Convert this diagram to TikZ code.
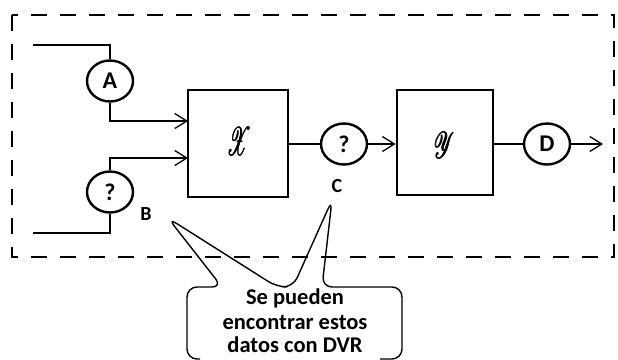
\documentclass[tikz,border=0pt]{standalone}
\usepackage{fontspec}
\setmainfont{Carlito}
\usepackage{mathrsfs}
\usepackage{graphicx}
\usetikzlibrary{shapes.geometric,arrows.meta}
\newcommand\fakebold[1]{\leavevmode\rlap{#1}\rlap{\kern0.6pt#1}\rlap{\kern1.2pt#1}\kern0.6pt#1\kern0.6pt}
\tikzset{
  conn/.style={line width=1.3pt},
  arr/.style={conn,-{Straight Barb[length=12pt,width=15pt,line width=1.3pt]}},
  oval/.style={draw,ellipse,line width=2.4pt,minimum width=46pt,minimum height=41pt,inner sep=0pt,font=\fontsize{24}{26}\selectfont\bfseries},
  blk/.style={draw,rectangle,line width=2.8pt,inner sep=0pt},
  glyph/.style={font=\fontsize{34}{34}\selectfont,inner sep=0pt},
  tag/.style={font=\fontsize{20}{22}\selectfont\bfseries,inner sep=0pt},
  frame/.style={line width=2.8pt,dash pattern=on 16pt off 13pt},
  callout/.style={line width=1.4pt,rounded corners=10pt},
  ctext/.style={font=\fontsize{22.5}{25}\selectfont\bfseries,inner sep=0pt,anchor=base,text depth=0pt}
}
\begin{document}
\begin{tikzpicture}[x=1pt,y=-1pt]
\useasboundingbox (0,0) rectangle (618,359);
% dashed frame
\draw[frame] (12,15) rectangle (614,257);
% blocks
\node[blk,minimum width=100pt,minimum height=107pt] (X) at (238,143.5) {};
\node[blk,minimum width=96pt,minimum height=105pt] (Y) at (445,142.5) {};
\node[glyph] (Xl) at (239,142) {\scalebox{0.8}[1.6]{\fakebold{$\mathscr{X}$}}};
\node[glyph] (Yl) at (444,145) {\scalebox{0.8}[1.5]{\fakebold{$\mathscr{Y}$}}};
% circles
\node[oval] (A) at (110,81) {A};
\node[oval] (Q1) at (110,192) {?};
\node[oval] (Q2) at (344,144) {?};
\node[oval] (D) at (547,144) {D};
% coordinates
\coordinate (inA) at (33,45);
\coordinate (inB) at (33,233);
\coordinate (xa) at (188,121);
\coordinate (xb) at (188,158);
\coordinate (out) at (603,144);
% connectors
\draw[conn] (inA) -| (A.north);
\draw[arr] (A.south) |- (xa);
\draw[arr] (Q1.north) |- (xb);
\draw[conn] (Q1.south) |- (inB);
\draw[conn] (X.east |- Q2.west) -- (Q2.west);
\draw[arr] (Q2.east) -- (Y.west |- Q2.east);
\draw[conn] (Y.east |- D.west) -- (D.west);
\draw[arr] (D.east) -- (out);
% labels
\node[tag] (B) at (146,214) {B};
\node[tag] (C) at (337,186) {C};
\coordinate (tB) at (168,218);
\coordinate (tC) at (332,200);
% callout
\draw[callout] (200,359) -- (187,359) -- (187,287) -- (222,287) -- (tB) -- (277,287) -- (293,287) -- (tC) -- (322,287) -- (402,287) -- (402,359) -- (380,359);
\node[ctext] (T1) at (295,304) {Se pueden};
\node[ctext] (T2) at (295,329) {encontrar estos};
\node[ctext] (T3) at (295,352) {datos con DVR};
\end{tikzpicture}
\end{document}
